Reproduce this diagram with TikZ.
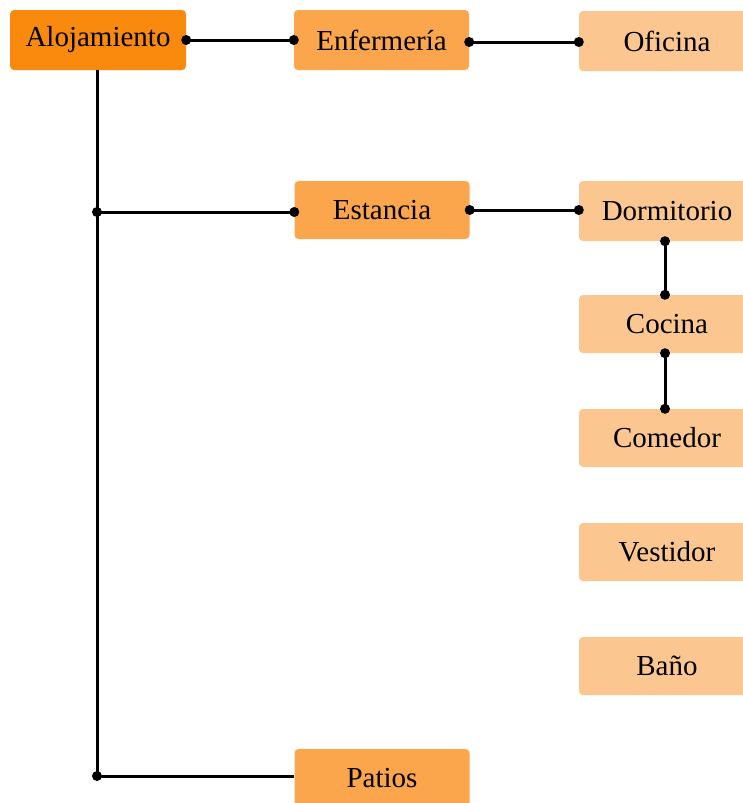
\documentclass[tikz,border=0pt]{standalone}
\usepackage{fontspec}
\setmainfont{Liberation Serif}
\begin{document}
\begin{tikzpicture}[x=1pt,y=-1pt,
  box/.style={rounded corners=4pt,minimum height=60pt,inner sep=0pt,font=\fontsize{29}{34}\selectfont,text=black},
  lvlA/.style={box,fill=orangeA,minimum width=176pt},
  lvlB/.style={box,fill=orangeB,minimum width=175pt},
  lvlC/.style={box,fill=orangeC,minimum width=176pt},
  wire/.style={line width=3pt,black},
  dot/.style={circle,fill=black,inner sep=0pt,minimum size=10pt}]
\definecolor{orangeA}{HTML}{F98A0E}
\definecolor{orangeB}{HTML}{FBA54C}
\definecolor{orangeC}{HTML}{FBC68F}
\useasboundingbox (0,0) rectangle (743,803);
\clip (0,0) rectangle (743,803);
% first column
\node[lvlA] (aloj) at (98,40) {Alojamiento};
% second column
\node[lvlB] (enf) at (381.5,40) {Enfermería};
\node[lvlB,minimum height=58pt] (est) at (382,210) {Estancia};
\node[lvlB,minimum height=58pt] (pat) at (382,778) {Patios};
% third column
\node[lvlC] (ofi) at (667,41) {Oficina};
\node[lvlC] (dor) at (667,211) {Dormitorio};
\node[lvlC,minimum height=58pt] (coc) at (667,324) {Cocina};
\node[lvlC,minimum height=58pt] (com) at (667,438) {Comedor};
\node[lvlC,minimum height=58pt] (ves) at (667,552) {Vestidor};
\node[lvlC,minimum height=58pt] (ban) at (667,666) {Baño};
% trunk and branch points
\coordinate (j1) at (97,212);
\coordinate (j2) at (97,776);
\draw[wire] (aloj.south -| j1) -- (j2);
% connectors
\draw[wire] (aloj.east) -- (enf.west);
\node[dot] at (aloj.east) {};
\node[dot] at (enf.west) {};
\draw[wire] (enf.east |- 0,42) -- (ofi.west |- 0,42);
\node[dot] at (enf.east |- 0,42) {};
\node[dot] at (ofi.west |- 0,42) {};
\draw[wire] (j1) -- (est.west |- j1);
\node[dot] at (j1) {};
\node[dot] at (est.west |- j1) {};
\draw[wire] (est.east) -- (dor.west |- est.east);
\node[dot] at (est.east) {};
\node[dot] at (dor.west |- est.east) {};
\draw[wire] (dor.south -| 665,0) -- (coc.north -| 665,0);
\node[dot] at (dor.south -| 665,0) {};
\node[dot] at (coc.north -| 665,0) {};
\draw[wire] (coc.south -| 665,0) -- (com.north -| 665,0);
\node[dot] at (coc.south -| 665,0) {};
\node[dot] at (com.north -| 665,0) {};
\draw[wire] (j2) -- (pat.west |- j2);
\node[dot] at (j2) {};
\end{tikzpicture}
\end{document}
